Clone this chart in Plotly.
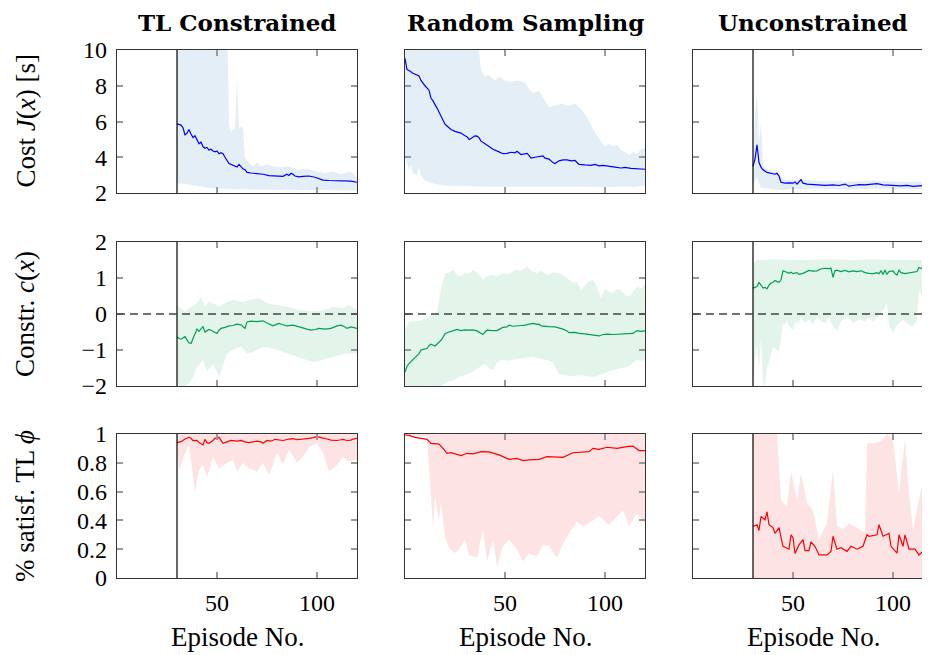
import plotly.graph_objects as go

# ---------------- data (episode, value) ----------------
COL_TITLES = ["TL Constrained", "Random Sampling", "Unconstrained"]
ROW_TITLES = ["Cost <i>J</i>(<i>x</i>) [s]", "Constr. <i>c</i>(<i>x</i>)", "% satisf. TL <i>ϕ</i>"]
X_TICKS = [50, 100]
Y_TICKS = [[2, 4, 6, 8, 10], [-2, -1, 0, 1, 2], [0, 0.2, 0.4, 0.6, 0.8, 1]]
Y_TICKTEXT = [["2", "4", "6", "8", "10"], ["\u22122", "\u22121", "0", "1", "2"],
              ["0", "0.2", "0.4", "0.6", "0.8", "1"]]
START_EPISODE = 30

# --- TL Constrained: cost
tlc_cost_mean = [(30,5.87),(31,5.85),(32,5.8),(33,5.65),(34,5.25),(35,5.35),(36,5.55),(37,5.3),(38,5.1),
    (39,5.2),(40,4.95),(41,4.75),(42,4.85),(43,4.6),(44,4.5),(45,4.55),(46,4.4),(47,4.45),(48,4.35),
    (49,4.3),(50,4.35),(51,4.2),(52,4.25),(53,4.2),(54,4.0),(55,3.85),(56,3.65),(57,3.6),(58,3.55),
    (59,3.5),(60,3.45),(61,3.6),(62,3.45),(63,3.35),(64,3.3),(65,3.15),(67,3.12),(70,3.1),(73,3.05),
    (76,2.97),(80,2.95),(83,2.93),(85,3.05),(86,2.98),(87,3.1),(88,3.05),(89,2.95),(91,2.9),(93,2.93),
    (96,2.95),(99,2.88),(101,2.8),(103,2.72),(106,2.7),(110,2.7),(114,2.68),(117,2.66),(120,2.6)]
tlc_cost_hi = [(30,12),(41,12),(42,9.9),(43,12),(55,12),(56,5.8),(57,5.4),(58,5.6),(59,5.5),(60,8.3),
    (61,5.6),(62,5.7),(63,5.6),(64,4.0),(66,3.7),(68,3.5),(70,3.7),(72,3.5),(75,3.6),(78,3.5),(82,3.45),
    (86,3.5),(90,3.3),(95,3.35),(100,3.2),(104,3.1),(108,3.2),(112,3.05),(116,3.2),(118,3.1),(120,2.9)]
tlc_cost_lo = [(30,2.55),(35,2.5),(40,2.4),(45,2.3),(50,2.25),(60,2.22),(70,2.2),(80,2.18),(90,2.15),
    (100,2.15),(110,2.15),(120,2.12)]

# --- Random Sampling: cost
rs_cost_mean = [(0,9.53),(1,8.9),(2,8.85),(4,8.7),(7,8.55),(8,8.3),(10,8.0),(12,7.75),(13,7.3),(14,7.15),
    (16,6.75),(18,6.3),(20,5.85),(21,5.75),(23,5.55),(25,5.45),(28,5.35),(30,5.2),(31,5.15),(32,5.0),
    (33,5.05),(35,5.2),(36,5.18),(37,5.1),(38,4.9),(40,4.75),(42,4.6),(44,4.45),(47,4.3),(49,4.2),
    (51,4.22),(53,4.28),(55,4.25),(56,4.33),(58,4.15),(60,4.2),(61,4.22),(62,4.1),(63,3.95),(65,4.0),
    (67,4.05),(69,4.08),(70,3.95),(72,3.9),(74,3.7),(75,3.65),(77,3.8),(79,3.85),(81,3.85),(83,3.8),
    (85,3.82),(87,3.6),(90,3.57),(93,3.55),(95,3.6),(97,3.52),(99,3.55),(102,3.48),(105,3.45),(108,3.4),
    (110,3.43),(113,3.38),(116,3.35),(118,3.35),(120,3.33)]
rs_cost_hi = [(0,12),(36,12),(37,9.9),(38,8.9),(40,8.5),(42,8.6),(45,8.3),(47,8.5),(50,8.3),(53,8.2),
    (56,8.3),(60,8.2),(62,7.8),(64,7.6),(67,7.7),(70,7.2),(72,6.8),(75,6.9),(78,7.0),(82,6.9),(85,7.0),
    (88,6.7),(90,6.4),(92,6.0),(94,5.6),(96,5.2),(98,4.9),(100,4.6),(102,4.75),(104,4.6),(106,4.7),
    (108,4.4),(110,4.3),(112,4.1),(114,4.3),(116,4.2),(118,4.45),(120,4.5)]
rs_cost_lo = [(0,3.95),(1,3.7),(2,3.3),(3,3.6),(4,3.1),(6,3.0),(7,3.5),(8,2.95),(10,2.7),(12,2.6),
    (15,2.5),(20,2.42),(30,2.38),(40,2.35),(50,2.35),(60,2.33),(70,2.36),(80,2.34),(90,2.35),(100,2.33),
    (110,2.36),(115,2.34),(120,2.42)]

# --- Unconstrained: cost
uc_cost_mean = [(30,3.5),(31,3.9),(32,4.7),(33,3.7),(34,3.45),(35,3.3),(37,3.15),(39,3.1),(41,3.05),
    (42,3.1),(43,2.95),(44,2.6),(46,2.55),(48,2.57),(50,2.55),(51,2.62),(52,2.5),(54,2.75),(55,2.55),
    (57,2.5),(60,2.48),(63,2.45),(66,2.43),(70,2.45),(73,2.42),(76,2.5),(78,2.38),(80,2.42),(83,2.47),
    (86,2.45),(89,2.48),(92,2.52),(95,2.45),(98,2.43),(101,2.45),(104,2.4),(107,2.43),(110,2.37),
    (113,2.4),(116,2.45),(120,2.47)]
uc_cost_hi = [(30,3.6),(31,6.5),(32,7.6),(33,4.8),(34,5.9),(35,3.6),(37,3.3),(40,3.2),(43,3.15),(45,2.75),
    (50,2.7),(55,2.75),(60,2.68),(70,2.66),(80,2.65),(90,2.68),(100,2.63),(110,2.62),(120,2.65)]
uc_cost_lo = [(30,2.5),(32,2.9),(34,2.3),(36,2.25),(40,2.2),(45,2.15),(50,2.25),(55,2.2),(60,2.25),
    (70,2.22),(80,2.2),(90,2.25),(100,2.22),(110,2.22),(120,2.25)]

# --- TL Constrained: constraint
tlc_con_mean = [(30,-0.63),(31,-0.68),(32,-0.7),(34,-0.63),(35,-0.72),(36,-0.8),(37,-0.82),(38,-0.68),
    (39,-0.55),(40,-0.42),(41,-0.48),(42,-0.4),(43,-0.35),(44,-0.5),(45,-0.47),(46,-0.43),(47,-0.45),
    (49,-0.52),(50,-0.54),(51,-0.45),(52,-0.4),(54,-0.37),(56,-0.33),(58,-0.32),(60,-0.28),(62,-0.3),
    (64,-0.4),(65,-0.22),(67,-0.2),(70,-0.21),(73,-0.19),(75,-0.25),(76,-0.28),(78,-0.33),(80,-0.28),
    (81,-0.26),(83,-0.3),(85,-0.33),(88,-0.31),(90,-0.35),(92,-0.37),(95,-0.42),(97,-0.45),(99,-0.43),
    (101,-0.4),(104,-0.42),(107,-0.4),(110,-0.33),(112,-0.31),(114,-0.36),(115,-0.4),(117,-0.36),(120,-0.4)]
tlc_con_hi = [(30,0.25),(34,0.07),(37,0.2),(40,0.3),(42,0.48),(44,0.2),(46,0.35),(48,0.3),(51,0.2),
    (55,0.34),(58,0.39),(63,0.34),(66,0.39),(71,0.44),(75,0.3),(80,0.25),(86,0.19),(91,0.11),(100,0.07),
    (105,0.13),(108,0.2),(113,0.16),(116,0.25),(120,0.11)]
tlc_con_lo = [(30,-1.93),(32,-2.05),(36,-1.93),(38,-1.75),(40,-1.47),(43,-1.28),(45,-1.6),(48,-1.38),
    (51,-1.75),(55,-1.1),(58,-1.0),(62,-0.91),(65,-1.1),(68,-1.05),(73,-0.91),(78,-0.96),(83,-1.05),
    (88,-1.14),(93,-1.24),(98,-1.33),(103,-1.28),(108,-1.19),(115,-1.1),(120,-1.1)]

# --- Random Sampling: constraint
rs_con_mean = [(0,-1.61),(1,-1.45),(2,-1.38),(4,-1.25),(5,-1.21),(7,-1.1),(8,-1.0),(10,-0.97),(11,-0.96),
    (12,-0.88),(13,-0.84),(15,-0.89),(17,-0.8),(18,-0.73),(19,-0.65),(20,-0.55),(21,-0.52),(23,-0.49),
    (25,-0.45),(26,-0.43),(28,-0.46),(30,-0.44),(32,-0.45),(34,-0.44),(36,-0.47),(38,-0.53),(39,-0.57),
    (40,-0.5),(41,-0.45),(44,-0.46),(46,-0.46),(48,-0.4),(49,-0.37),(51,-0.36),(52,-0.31),(54,-0.34),
    (56,-0.34),(58,-0.32),(60,-0.31),(62,-0.28),(64,-0.26),(66,-0.29),(67,-0.28),(68,-0.33),(70,-0.33),
    (72,-0.35),(75,-0.36),(77,-0.38),(79,-0.42),(81,-0.47),(82,-0.52),(85,-0.51),(87,-0.54),(90,-0.55),
    (92,-0.57),(95,-0.6),(97,-0.61),(99,-0.57),(101,-0.56),(104,-0.57),(107,-0.56),(110,-0.55),
    (113,-0.55),(114,-0.54),(116,-0.46),(118,-0.48),(120,-0.47)]
rs_con_hi = [(0,-0.45),(2,-0.21),(5,-0.2),(8,-0.18),(11,-0.1),(14,-0.02),(16,0.07),(18,0.67),(20,1.13),
    (22,1.15),(24,1.23),(26,1.1),(28,1.04),(30,1.15),(32,1.12),(34,1.23),(36,1.15),(38,1.0),(39,0.95),
    (41,1.05),(44,1.09),(46,1.05),(49,1.13),(52,1.1),(55,1.23),(58,1.2),(61,1.32),(63,1.2),(66,1.13),
    (68,1.2),(71,1.08),(74,1.15),(77,1.13),(80,1.05),(82,0.95),(84,0.86),(86,0.9),(88,0.67),(90,0.8),
    (92,0.9),(94,0.95),(96,0.75),(98,0.44),(100,0.7),(102,0.62),(104,0.58),(106,0.7),(108,0.67),
    (110,0.55),(112,0.48),(114,0.62),(116,0.76),(118,0.7),(120,0.81)]
rs_con_lo = [(0,-2.1),(16,-2.1),(18,-2.0),(21,-1.89),(24,-1.85),(27,-1.75),(30,-1.7),(34,-1.6),(38,-1.45),
    (40,-1.38),(42,-1.5),(44,-1.56),(46,-1.35),(48,-1.28),(52,-1.3),(56,-1.24),(60,-1.22),(64,-1.19),
    (68,-1.25),(71,-1.28),(74,-1.35),(77,-1.66),(80,-1.7),(84,-1.73),(88,-1.7),(94,-1.75),(98,-1.68),
    (104,-1.56),(108,-1.5),(111,-1.47),(114,-1.35),(116,-1.28),(118,-1.3),(120,-1.28)]

# --- Unconstrained: constraint
uc_con_mean = [(30,0.72),(31,0.74),(32,0.76),(33,0.88),(34,0.8),(35,0.72),(36,0.74),(37,0.7),(38,0.8),
    (39,0.86),(40,0.88),(41,0.93),(42,0.9),(43,0.88),(44,0.95),(45,1.2),(46,1.18),(48,1.13),(49,1.16),
    (50,1.12),(52,1.15),(53,1.1),(55,1.13),(57,1.17),(58,1.21),(60,1.19),(62,1.2),(64,1.25),(66,1.27),
    (68,1.26),(69,1.27),(70,1.02),(71,1.2),(72,1.22),(74,1.18),(76,1.21),(78,1.17),(80,1.2),(82,1.18),
    (84,1.2),(86,1.15),(88,1.13),(90,1.12),(92,1.15),(93,1.12),(94,1.2),(95,1.1),(96,1.22),(97,1.1),
    (98,1.18),(100,1.2),(101,1.12),(102,1.08),(103,1.22),(104,1.15),(106,1.12),(108,1.14),(110,1.16),
    (112,1.18),(113,1.29),(115,1.25),(117,1.27),(120,1.24)]
uc_con_hi = [(30,1.5),(31,1.42),(32,1.52),(34,1.5),(40,1.52),(50,1.5),(60,1.51),(70,1.52),(80,1.5),
    (90,1.52),(100,1.5),(110,1.51),(120,1.5)]
uc_con_lo = [(30,-2.05),(31,-1.3),(32,-0.91),(33,-1.5),(34,-0.63),(35,-1.84),(36,-2.05),(37,-1.5),
    (38,-1.35),(40,-0.91),(42,-1.0),(43,-1.05),(44,-0.7),(45,-0.26),(46,-0.3),(47,-0.17),(48,-0.35),
    (50,-0.45),(51,-0.2),(52,-0.3),(54,-0.1),(56,-0.26),(58,-0.15),(60,-0.3),(62,-0.07),(64,-0.2),
    (66,-0.26),(68,-0.1),(70,-0.35),(72,-0.45),(74,-0.2),(77,-0.07),(80,-0.25),(83,-0.15),(86,-0.2),
    (88,-0.1),(90,-0.2),(93,-0.05),(95,0.1),(97,0.3),(98,-0.3),(100,-0.54),(102,-0.3),(105,-0.15),
    (108,-0.3),(110,-0.35),(112,-0.2),(113,0.67),(115,0.39),(117,0.45),(120,0.41)]

# --- TL Constrained: % satisfaction
tlc_sat_mean = [(30,0.94),(31,0.945),(32,0.947),(34,0.965),(36,0.977),(37,0.97),(38,0.954),(40,0.955),
    (41,0.94),(43,0.924),(44,0.963),(45,0.94),(46,0.935),(48,0.955),(49,0.97),(51,0.977),(52,0.96),
    (53,0.935),(55,0.945),(57,0.955),(60,0.95),(62,0.955),(64,0.945),(66,0.94),(68,0.945),(70,0.95),
    (72,0.945),(73,0.935),(75,0.955),(77,0.95),(79,0.963),(81,0.96),(83,0.955),(86,0.965),(88,0.968),
    (90,0.96),(93,0.963),(96,0.97),(98,0.975),(100,0.982),(102,0.975),(103,0.97),(105,0.965),(107,0.958),
    (110,0.955),(112,0.96),(113,0.963),(115,0.955),(117,0.958),(118,0.965),(120,0.97)]
tlc_sat_hi = [(30,1.0),(120,1.0)]
tlc_sat_lo = [(30,0.935),(31,0.74),(34,0.87),(36,0.93),(37,0.83),(39,0.6),(41,0.75),(43,0.785),(45,0.7),
    (48,0.84),(51,0.76),(55,0.8),(58,0.82),(60,0.74),(63,0.8),(66,0.76),(70,0.74),(73,0.8),(76,0.716),
    (80,0.866),(83,0.79),(86,0.89),(90,0.8),(93,0.84),(96,0.91),(100,0.935),(103,0.87),(106,0.74),
    (110,0.785),(113,0.84),(116,0.81),(120,0.82)]

# --- Random Sampling: % satisfaction
rs_sat_mean = [(0,0.993),(2,0.99),(5,0.977),(8,0.97),(11,0.963),(13,0.935),(17,0.93),(19,0.9),(21,0.866),
    (23,0.87),(26,0.855),(28,0.85),(31,0.866),(34,0.862),(38,0.878),(42,0.876),(47,0.855),(52,0.824),
    (56,0.83),(59,0.815),(62,0.82),(67,0.824),(71,0.843),(76,0.843),(79,0.838),(84,0.87),(89,0.877),
    (92,0.877),(94,0.9),(97,0.893),(101,0.908),(106,0.9),(111,0.912),(114,0.916),(117,0.885),(120,0.885)]
rs_sat_hi = [(0,1.0),(120,1.0)]
rs_sat_lo = [(0,0.993),(11,0.985),(12,0.82),(14,0.358),(15,0.566),(17,0.4),(18,0.52),(20,0.29),(22,0.21),
    (25,0.173),(27,0.2),(30,0.266),(32,0.16),(36,0.14),(39,0.335),(41,0.115),(44,0.266),(46,0.08),
    (49,0.22),(52,0.266),(56,0.2),(59,0.115),(62,0.17),(66,0.15),(69,0.23),(72,0.22),(76,0.14),(79,0.24),
    (82,0.31),(86,0.39),(89,0.36),(94,0.4),(97,0.43),(102,0.37),(109,0.47),(112,0.36),(116,0.45),(120,0.38)]

# --- Unconstrained: % satisfaction
uc_sat_mean = [(30,0.358),(32,0.37),(33,0.33),(34,0.427),(36,0.404),(37,0.46),(38,0.37),(40,0.35),
    (41,0.31),(43,0.35),(45,0.22),(48,0.2),(49,0.3),(50,0.28),(51,0.17),(53,0.23),(55,0.266),(56,0.19),
    (58,0.19),(59,0.25),(61,0.22),(63,0.16),(67,0.16),(69,0.185),(70,0.29),(72,0.2),(74,0.21),(77,0.185),
    (79,0.22),(82,0.2),(85,0.22),(87,0.3),(88,0.29),(92,0.3),(93,0.37),(95,0.29),(98,0.31),(99,0.22),
    (102,0.173),(103,0.3),(105,0.22),(106,0.3),(108,0.2),(111,0.2),(113,0.16),(116,0.2),(120,0.21)]
uc_sat_hi = [(30,1.0),(42,1.0),(44,0.54),(47,0.5),(49,0.74),(52,0.54),(54,0.73),(57,0.52),(60,0.47),
    (63,0.266),(67,0.38),(70,0.75),(72,0.36),(75,0.34),(78,0.38),(83,0.34),(86,0.315),(87,0.935),
    (90,0.935),(94,0.95),(97,1.0),(100,0.96),(103,0.59),(106,0.96),(108,0.59),(110,0.33),(113,0.54),
    (115,0.68),(120,0.61)]
uc_sat_lo = [(30,0.0),(120,0.0)]

LINE_COLORS = ["#0000ff", "#00a050", "#ff0000"]
FILL_COLORS = ["#e3eef7", "#e3f4ea", "#fde3e3"]

panels = [
    [tlc_cost_mean, tlc_cost_hi, tlc_cost_lo], [rs_cost_mean, rs_cost_hi, rs_cost_lo], [uc_cost_mean, uc_cost_hi, uc_cost_lo],
    [tlc_con_mean, tlc_con_hi, tlc_con_lo], [rs_con_mean, rs_con_hi, rs_con_lo], [uc_con_mean, uc_con_hi, uc_con_lo],
    [tlc_sat_mean, tlc_sat_hi, tlc_sat_lo], [rs_sat_mean, rs_sat_hi, rs_sat_lo], [uc_sat_mean, uc_sat_hi, uc_sat_lo],
]

# ---------------- layout geometry (page pixels; page has an 8px body margin) ----------------
OFF = 8
W, H = 930 - OFF, 655 - OFF
COL_PX = [(117, 357), (405, 645), (693, 930)]
ROW_PX = [(50, 193), (242, 386), (434, 578)]
X_RANGES = [[0, 120], [0, 120], [0, 118.5]]
Y_RANGES = [[2, 10], [-2, 2], [0, 1]]


def fx(p):
    return (p - OFF) / W


def fy(p):
    return 1 - (p - OFF) / H


SERIF = "Liberation Serif, DejaVu Serif, Times New Roman, serif"
BOLD_SERIF = "DejaVu Serif, Liberation Serif, serif"
fig = go.Figure()
layout = dict(width=W, height=H, margin=dict(l=0, r=0, t=0, b=0, pad=0, autoexpand=False),
              paper_bgcolor="white", plot_bgcolor="white", showlegend=False, template="none")
shapes, annotations = [], []

for k, (mean, hi, lo) in enumerate(panels):
    r, c = divmod(k, 3)
    sfx = "" if k == 0 else str(k + 1)
    xa, ya = "x" + sfx, "y" + sfx
    hx, hy = zip(*hi)
    lx, ly = zip(*lo)
    fig.add_trace(go.Scatter(x=list(hx) + list(lx)[::-1], y=list(hy) + list(ly)[::-1],
                             fill="toself", fillcolor=FILL_COLORS[r], mode="lines",
                             line=dict(width=0, color=FILL_COLORS[r]), hoverinfo="skip",
                             xaxis=xa, yaxis=ya))
    mx, my = zip(*mean)
    fig.add_trace(go.Scatter(x=list(mx), y=list(my), mode="lines",
                             line=dict(color=LINE_COLORS[r], width=1.2), xaxis=xa, yaxis=ya))
    common = dict(showline=True, linecolor="#333333", linewidth=1.2, ticks="inside", ticklen=6,
                  tickcolor="#9a9a9a", tickwidth=1.5, showgrid=False, zeroline=False, automargin=False,
                  tickfont=dict(family=SERIF, size=24, color="black"))
    layout["xaxis" + sfx] = dict(common, domain=[fx(COL_PX[c][0]), fx(COL_PX[c][1])],
                                 range=X_RANGES[c], anchor=ya, tickvals=X_TICKS,
                                 showticklabels=(r == 2), mirror="ticks", ticklabelstandoff=3)
    layout["yaxis" + sfx] = dict(common, domain=[fy(ROW_PX[r][1]), fy(ROW_PX[r][0])],
                                 range=Y_RANGES[r], anchor=xa, tickvals=Y_TICKS[r],
                                 ticktext=Y_TICKTEXT[r], showticklabels=(c == 0),
                                 mirror=("ticks" if c < 2 else False), ticklabelstandoff=4)
    if c != 1:
        shapes.append(dict(type="line", xref=xa, yref=ya + " domain", x0=START_EPISODE, x1=START_EPISODE,
                           y0=0, y1=1, line=dict(color="black", width=1.2)))
    if r == 1:
        shapes.append(dict(type="line", xref=xa + " domain", yref=ya, x0=0, x1=1, y0=0, y1=0,
                           line=dict(color="#444444", width=1.5, dash="8px,5px")))

for c in range(3):
    cx = fx(COL_PX[c][0] + 120)
    annotations.append(dict(text="<b>" + COL_TITLES[c] + "</b>", x=cx, y=1.0, xref="paper",
                            yref="paper", showarrow=False, xanchor="center", yanchor="top",
                            borderpad=0, font=dict(family=BOLD_SERIF, size=23, color="black")))
    annotations.append(dict(text="Episode No.", x=cx, y=fy(637), xref="paper", yref="paper",
                            showarrow=False, xanchor="center", yanchor="middle",
                            font=dict(family=SERIF, size=27, color="black")))
for r in range(3):
    cy = fy((ROW_PX[r][0] + ROW_PX[r][1]) / 2)
    annotations.append(dict(text=ROW_TITLES[r], x=fx(25), y=cy, xref="paper", yref="paper",
                            showarrow=False, textangle=-90, xanchor="center", yanchor="middle",
                            font=dict(family=SERIF, size=27, color="black")))

layout["shapes"] = shapes
layout["annotations"] = annotations
fig.update_layout(**layout)
fig.write_html("out.html")
